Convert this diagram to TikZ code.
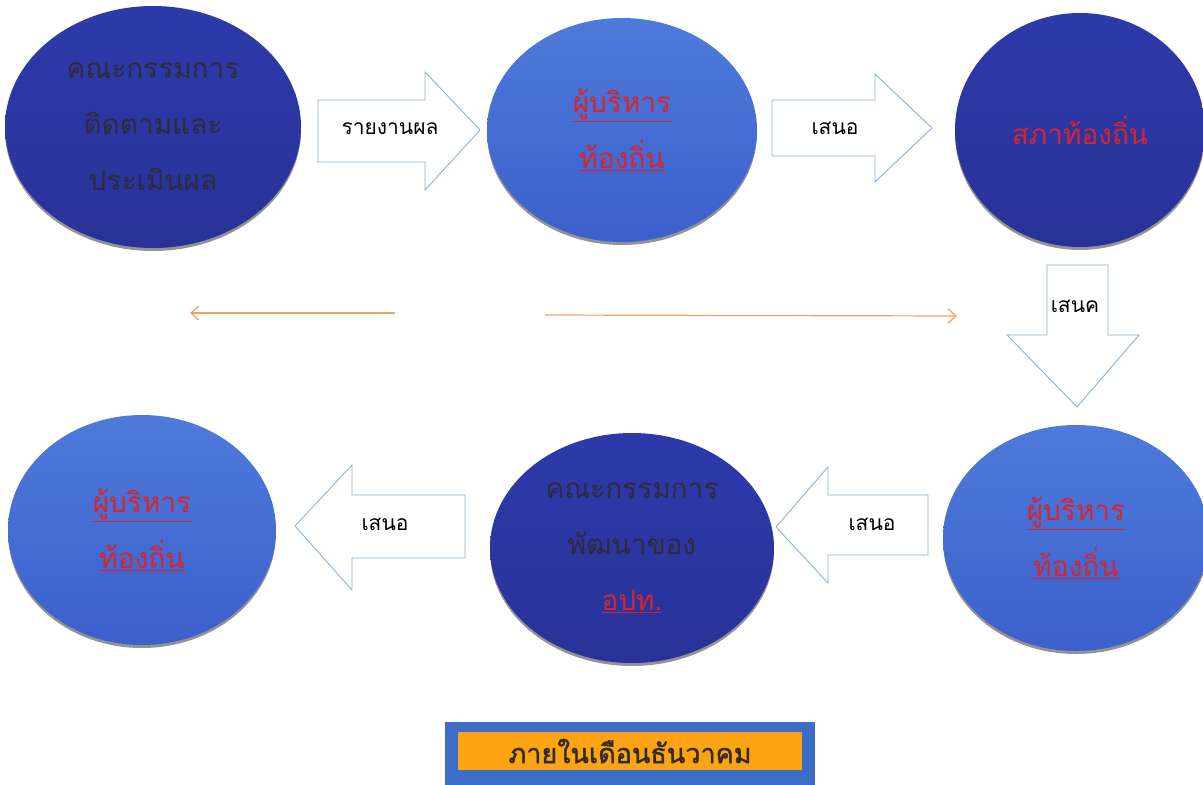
\documentclass[tikz,border=0pt]{standalone}
\usepackage{fontspec}
\newfontfamily\thaifont[Script=Thai]{Loma}
\newfontfamily\thaibold[Script=Thai,FakeBold=1.5]{Loma}
\usetikzlibrary{shapes.geometric,arrows.meta,shadows}
\definecolor{darkblue}{RGB}{46,58,170}
\definecolor{darkblueb}{RGB}{40,50,152}
\definecolor{lightblue}{RGB}{78,122,218}
\definecolor{lightblueb}{RGB}{60,96,204}
\definecolor{redtext}{RGB}{214,36,48}
\definecolor{graytext}{RGB}{44,44,60}
\definecolor{arrowline}{RGB}{140,175,225}
\definecolor{orangeline}{RGB}{246,160,96}
\definecolor{boxblue}{RGB}{60,110,200}
\definecolor{boxorange}{RGB}{252,164,20}
\definecolor{boxtext}{RGB}{50,44,30}
\tikzset{
  disc/.style={ellipse, inner sep=0pt, align=center, font=\thaifont\fontsize{28}{56}\selectfont,
     drop shadow={shadow xshift=0pt, shadow yshift=-3pt, fill=black!70, opacity=0.6}},
  darkdisc/.style={disc, top color=darkblue, bottom color=darkblueb, text=graytext},
  lightdisc/.style={disc, top color=lightblue, bottom color=lightblueb, text=redtext},
  blockarrow/.style={draw=arrowline, line width=0.9pt, fill=white, line join=miter},
  arrowlabel/.style={font=\thaifont\fontsize{21}{24}\selectfont, text=black},
  thinarrow/.style={draw=orangeline, line width=1.2pt, -{Straight Barb[length=8pt,width=14pt]}},
}
\newcommand{\ul}[1]{\underline{#1}}
\begin{document}
\begin{tikzpicture}[x=1pt,y=-1pt]
\useasboundingbox (0,0) rectangle (1203,785);
\fill[white] (0,0) rectangle (1203,785);

% discs
\node[darkdisc, minimum width=296pt, minimum height=242pt] (c1) at (153,127)
  {คณะกรรมการ\\ติดตามและ\\ประเมินผล};
\node[lightdisc, minimum width=270pt, minimum height=224pt] (c2) at (622,130)
  {\ul{ผู้บริหาร}\\\ul{ท้องถิ่น}};
\node[darkdisc, text=redtext, minimum width=250pt, minimum height=234pt] (c3) at (1080,130)
  {สภาท้องถิ่น};
\node[lightdisc, minimum width=266pt, minimum height=226pt] (c4) at (1076,538)
  {\ul{ผู้บริหาร}\\\ul{ท้องถิ่น}};
\node[darkdisc, minimum width=284pt, minimum height=230pt] (c5) at (632,548)
  {คณะกรรมการ\\พัฒนาของ\\\textcolor{redtext}{\ul{อปท.}}};
\node[lightdisc, minimum width=268pt, minimum height=230pt] (c6) at (142,530)
  {\ul{ผู้บริหาร}\\\ul{ท้องถิ่น}};

% block arrow 1 (right)
\draw[blockarrow] (318,100) -- (425,100) -- (425,72) -- (480,130) -- (425,190) -- (425,162) -- (318,162) -- cycle;
\node[arrowlabel] (l1) at (390,129) {รายงานผล};
% block arrow 2 (right)
\draw[blockarrow] (772,100) -- (875,100) -- (875,74) -- (932,128) -- (875,182) -- (875,156) -- (772,156) -- cycle;
\node[arrowlabel] (l2) at (835,128) {เสนอ};
% block arrow 3 (down)
\draw[blockarrow] (1047,265) -- (1108,265) -- (1108,335) -- (1139,335) -- (1077,407) -- (1007,335) -- (1047,335) -- cycle;
\node[arrowlabel] (l3) at (1075,306) {เสนค};
% block arrow 4 (left)
\draw[blockarrow] (928,495) -- (828,495) -- (828,467) -- (776,527) -- (828,583) -- (828,555) -- (928,555) -- cycle;
\node[arrowlabel] (l4) at (872,524) {เสนอ};
% block arrow 5 (left)
\draw[blockarrow] (465,495) -- (352,495) -- (352,465) -- (295,526) -- (352,590) -- (352,558) -- (465,558) -- cycle;
\node[arrowlabel] (l5) at (385,524) {เสนอ};

% thin orange arrows
\coordinate (o1) at (395,313);
\coordinate (o2) at (190,313);
\coordinate (o3) at (545,315);
\coordinate (o4) at (957,316);
\draw[thinarrow] (o1) -- (o2);
\draw[thinarrow] (o3) -- (o4);

% bottom box
\node[fill=boxblue, minimum width=370pt, minimum height=64pt, inner sep=0pt] (bx) at (630,754) {};
\node[fill=boxorange, minimum width=344pt, minimum height=38pt, inner sep=0pt,
      font=\thaibold\fontsize{27}{30}\selectfont, text=boxtext] (bt) at (630,751) {ภายในเดือนธันวาคม};
\end{tikzpicture}
\end{document}
